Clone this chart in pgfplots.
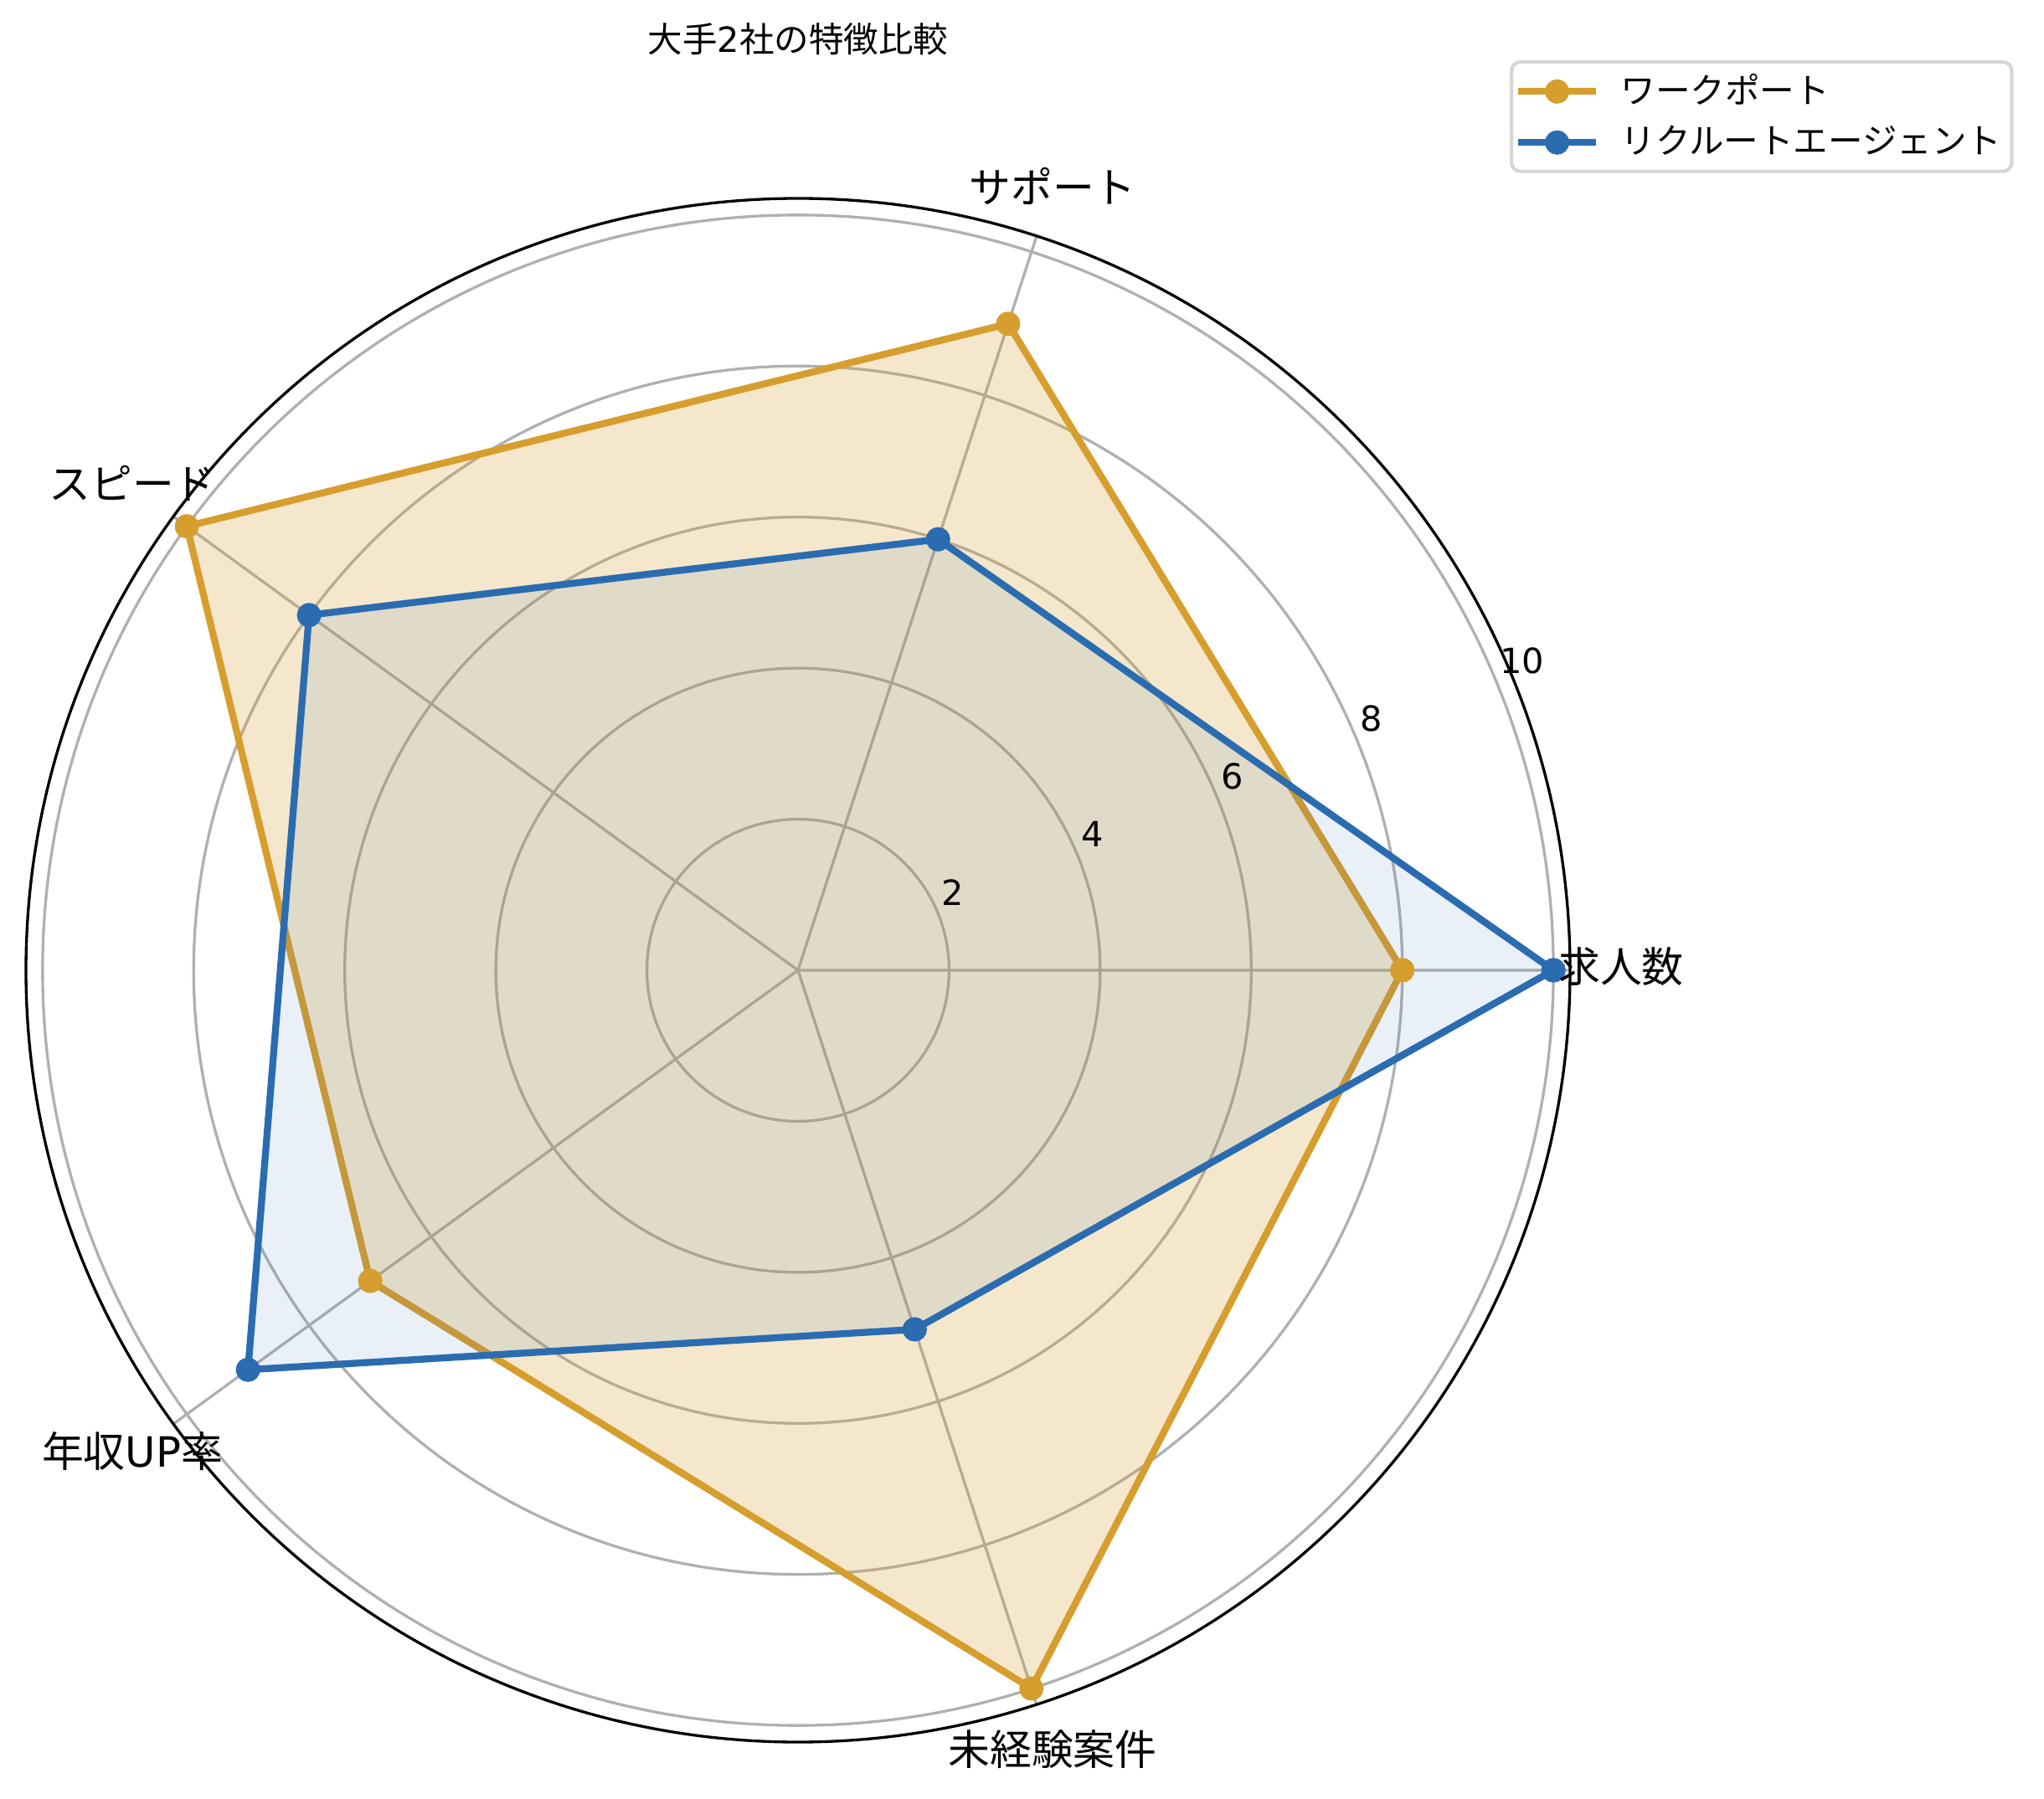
\documentclass[border=0pt]{standalone}
\usepackage{fontspec}
\setmainfont{DejaVu Sans}
\newfontfamily\cjk{Noto Sans CJK JP}
\usepackage{pgfplots}
\pgfplotsset{compat=1.18}
\usepgfplotslibrary{polar}

\definecolor{wpgold}{HTML}{D69E2E}
\definecolor{rablue}{HTML}{2B6CB0}
\definecolor{gridgray}{HTML}{B0B0B0}
\definecolor{legframe}{HTML}{D6D6D6}
\tikzset{rtick/.style={anchor=west, inner sep=0pt, font=\fontsize{10}{12}\selectfont}}

\begin{document}
\begin{tikzpicture}
\begin{polaraxis}[
    width=444.22pt, height=444.22pt, scale only axis,
    xmin=0, xmax=360, ymin=0, ymax=10.22,
    xtick={0,72,144,216,288},
    ytick={2,4,6,8,10},
    xticklabels={}, yticklabels={},
    major tick length=0pt,
    grid=major,
    major grid style={draw=gridgray, line width=0.8pt},
    axis line style={black, line width=0.8pt},
    y axis line style={draw=none},
    clip=false,
    legend style={at={(0.961,1.0895)}, anchor=north west,
        draw=legframe, line width=1pt, rounded corners=2.5pt,
        font=\cjk\fontsize{10}{12}\selectfont,
        inner xsep=1pt, inner ysep=1.5pt, row sep=0.9pt, column sep=4.2pt,
        nodes={inner xsep=2pt, inner ysep=2pt}},
    legend cell align=left,
    legend image code/.code={
        \draw[mark repeat=2, mark phase=2]
        plot coordinates {(0pt,0pt) (11.1pt,0pt) (22.2pt,0pt)};},
]
% ワークポート
\addplot[wpgold, line width=2pt, fill=wpgold, fill opacity=0.25,
    mark=*, mark size=3pt,
    mark options={solid, fill=wpgold, fill opacity=1, line width=1pt}]
    coordinates {(0,8) (72,9) (144,10) (216,7) (288,10) (360,8)};
\addlegendentry{ワークポート}
% リクルートエージェント
\addplot[rablue, line width=2pt, fill=rablue, fill opacity=0.1,
    mark=*, mark size=3pt,
    mark options={solid, fill=rablue, fill opacity=1, line width=1pt}]
    coordinates {(0,10) (72,6) (144,8) (216,9) (288,5) (360,10)};
\addlegendentry{リクルートエージェント}

% radial tick labels at 22.5 degrees
\node[rtick] at ([shift={(1pt,5.8pt)}]axis cs:22.5,2) {2};
\node[rtick] at ([shift={(1pt,5.8pt)}]axis cs:22.5,4) {4};
\node[rtick] at ([shift={(1pt,5.8pt)}]axis cs:22.5,6) {6};
\node[rtick] at ([shift={(1pt,5.8pt)}]axis cs:22.5,8) {8};
\node[rtick] at ([shift={(1pt,5.8pt)}]axis cs:22.5,10) {10};
\coordinate (O) at (axis cs:0,0);
\end{polaraxis}

% category labels
\begin{scope}[font=\fontsize{12}{14}\selectfont]
\node at ([shift={(236.8pt,0.96pt)}]O) {\cjk 求人数};
\node at ([shift={(73.23pt,225.7pt)}]O) {\cjk サポート};
\node at ([shift={(-191.5pt,140.0pt)}]O) {\cjk スピード};
\node at ([shift={(-191.5pt,-138.3pt)}]O) {{\cjk 年収}UP{\cjk 率}};
\node at ([shift={(73.23pt,-224.3pt)}]O) {\cjk 未経験案件};
\end{scope}

\node[font=\fontsize{10}{12}\selectfont] at ([shift={(0pt,268.0pt)}]O) {{\cjk 大手}2{\cjk 社の特徴比較}};

\pgfresetboundingbox
\path[use as bounding box] ([shift={(-229.58pt,-238.25pt)}]O) rectangle ++(588.04pt,517.45pt);
\end{tikzpicture}
\end{document}
